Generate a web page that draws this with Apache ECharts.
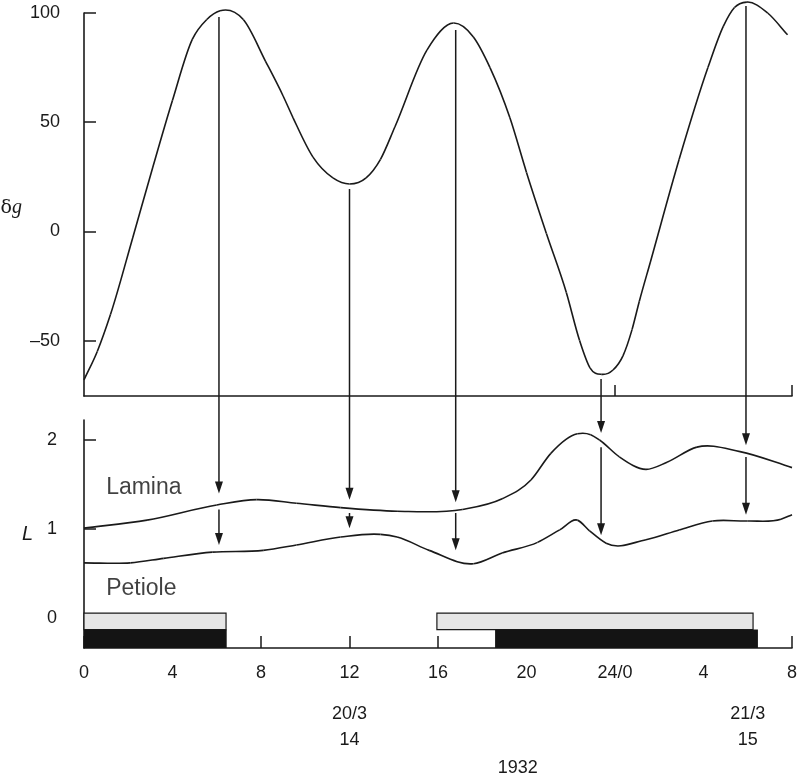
<!DOCTYPE html>
<html>
<head>
<meta charset="utf-8">
<script src="https://cdn.jsdelivr.net/npm/echarts@6/dist/echarts.min.js"></script>
<style>
  html, body { margin: 0; padding: 0; background: #fff; }
  #chart { width: 798px; height: 777px; }
</style>
</head>
<body>
<div id="chart"></div>
<script>
// hours since 0h on 20/3 (x), δg for the top curve, L for lamina / petiole
const dgHours = [0, 0.6, 1.2, 2.2, 3.1, 4.0, 4.9, 5.55, 6.15, 7.2, 8.2, 9.0, 9.45, 10.35, 11.25, 12.0, 12.75, 13.4, 14.05, 15.5, 16.7, 17.6, 18.35, 19.25, 20.0, 20.9, 21.8, 22.4, 22.87, 23.4, 23.91, 24.36, 24.77, 25.1, 25.6, 26.9, 28.2, 28.9, 29.4, 29.96, 30.9, 31.8];
const dgValues = [-68, -55, -38, -3, 29, 60, 88, 97, 101, 97, 78, 62, 52, 34, 24.5, 21.7, 24.5, 33, 47.8, 83, 95.4, 89, 75, 52, 27, -1, -28, -50, -62.5, -65.5, -63.5, -57, -45, -32, -14, 33, 75, 94, 102.5, 105, 100, 90];

const laminaHours = [0, 2.85, 6.0, 7.8, 9.6, 11.6, 14.15, 17.1, 18.9, 20.2, 21.1, 22.3, 22.9, 23.3, 24.2, 25.4, 26.35, 27.7, 29.65, 32.0];
const laminaValues = [1.01, 1.10, 1.27, 1.33, 1.29, 1.24, 1.20, 1.22, 1.34, 1.55, 1.85, 2.07, 2.06, 2.00, 1.81, 1.67, 1.75, 1.92, 1.87, 1.69];

const petioleHours = [0, 2.1, 3.6, 5.8, 8.1, 9.6, 11.6, 13.4, 14.15, 15.6, 17.6, 18.9, 20.5, 21.5, 22.3, 22.85, 23.6, 25.4, 26.9, 28.4, 30.0, 31.5, 32.0];
const petioleValues = [0.62, 0.62, 0.67, 0.74, 0.76, 0.82, 0.91, 0.94, 0.91, 0.76, 0.61, 0.73, 0.85, 0.99, 1.10, 0.98, 0.84, 0.88, 0.99, 1.09, 1.09, 1.11, 1.16];

// arrows: hour, start on the δg curve, tip above lamina; second arrow lamina -> petiole
const arrowHours = [6.1, 12.0, 16.8, 23.37, 29.92];
const arrowStartDg = [98.2, 19.4, 92.2, -67.6, 103.2];
const arrowTipLamina = [1.40, 1.33, 1.30, 2.08, 1.94];
const arrowStartPetiole = [1.22, 1.18, 1.18, 1.92, 1.81];
const arrowTipPetiole = [0.82, 1.01, 0.76, 0.93, 1.16];

// light (open bars) and dark (filled bars) periods, hours
const lightPeriods = [[0, 6.42], [15.95, 30.24]];
const darkPeriods = [[0, 6.45], [18.58, 30.46]];

const xTicks = [0, 4, 8, 12, 16, 20, 24, 28, 32];
const dgTicks = [-50, 0, 50, 100];
const lTicks = [0, 1, 2];
const dateMarks = [[12, "20/3\n14"], [30, "21/3\n15"]];
const yearMark = [[19.6, "1932"]];

const INK = "#1a1a1a";
const FONT = "'Liberation Sans', Arial, Helvetica, sans-serif";

const pairs = (xs, ys) => xs.map((x, i) => [x, ys[i]]);
const hourLabel = (v) => (v < 24 ? String(v) : v === 24 ? "24/0" : String(v - 24));

const chart = echarts.init(document.getElementById("chart"), null, { renderer: "canvas" });

// smooth curve: one cubic segment per data point, tangents from the neighbours (C1),
// so peaks stay round instead of being clipped like the built-in smoothing
const curveRender = (xs, ys) => (params, api) => {
    const i = params.dataIndex;
    const n = xs.length;
    if (i >= n - 1) return null;
    const P = (k) => api.coord([xs[k], ys[k]]);
    const slope = (k) => {
        if (k === 0 || k === n - 1) {
            const a = P(k === 0 ? 0 : n - 2), b = P(k === 0 ? 1 : n - 1);
            return (b[1] - a[1]) / (b[0] - a[0]);
        }
        const a = P(k - 1), b = P(k), c = P(k + 1);
        const h0 = b[0] - a[0], h1 = c[0] - b[0];
        const d0 = (b[1] - a[1]) / h0, d1 = (c[1] - b[1]) / h1;
        return (d0 * h1 + d1 * h0) / (h0 + h1);
    };
    const p = P(i), q = P(i + 1);
    const h = (q[0] - p[0]) / 3;
    return {
        type: "bezierCurve",
        shape: {
            x1: p[0], y1: p[1], x2: q[0], y2: q[1],
            cpx1: p[0] + h, cpy1: p[1] + slope(i) * h,
            cpx2: q[0] - h, cpy2: q[1] - slope(i + 1) * h,
        },
        style: { stroke: INK, lineWidth: 1.6, fill: null },
    };
};

const bandRender = (low, high, fill, stroke) => (params, api) => {
    const a = api.coord([api.value(0), high]);
    const b = api.coord([api.value(1), low]);
    return {
        type: "rect",
        shape: { x: a[0], y: a[1], width: b[0] - a[0], height: b[1] - a[1] },
        style: { fill: fill, stroke: stroke, lineWidth: stroke ? 1.2 : 0 },
    };
};

const arrowRender = (params, api) => {
    const x = api.value(0);
    const p0 = api.coord([x, api.value(1)]);
    const p1 = api.coord([x, api.value(2)]);
    return {
        type: "group",
        children: [
            { type: "line", shape: { x1: p0[0], y1: p0[1], x2: p1[0], y2: p1[1] - 8 }, style: { stroke: INK, lineWidth: 1.5 } },
            { type: "polygon", shape: { points: [[p1[0] - 4, p1[1] - 12], [p1[0] + 4, p1[1] - 12], [p1[0], p1[1]]] }, style: { fill: INK } },
        ],
    };
};

const axisLine = { show: true, onZero: false, lineStyle: { color: INK, width: 1.6 } };
const labelStyle = { color: INK, fontSize: 18, fontFamily: FONT };
const hiddenLine = { show: false, onZero: false };

const option = {
    animation: false,
    backgroundColor: "#fff",
    textStyle: { fontFamily: FONT, color: INK },
    grid: [
        { left: 84, top: 13, width: 708, height: 383, containLabel: false, outerBoundsMode: "none" },
        { left: 84, top: 420, width: 708, height: 228, containLabel: false, outerBoundsMode: "none" },
    ],
    xAxis: [
        {
            gridIndex: 0, type: "value", min: 0, max: 32, position: "bottom",
            axisLine: axisLine,
            axisTick: { show: true, inside: true, length: 11, customValues: [24, 32], lineStyle: { color: INK, width: 1.5 } },
            axisLabel: { show: false },
            splitLine: { show: false },
        },
        {
            gridIndex: 1, type: "value", min: 0, max: 32, interval: 4, position: "bottom",
            axisLine: axisLine,
            axisTick: { show: true, inside: true, length: 12, lineStyle: { color: INK, width: 1.5 } },
            axisLabel: Object.assign({ margin: 16, formatter: hourLabel, customValues: xTicks }, labelStyle),
            splitLine: { show: false },
        },
        {
            gridIndex: 1, type: "value", min: 0, max: 32, position: "bottom",
            axisLine: hiddenLine, axisTick: { show: false }, splitLine: { show: false },
            axisLabel: Object.assign({
                margin: 53, lineHeight: 26, customValues: dateMarks.map((d) => d[0]),
                formatter: (v) => (dateMarks.find((d) => d[0] === v) || [0, ""])[1],
            }, labelStyle),
        },
        {
            gridIndex: 1, type: "value", min: 0, max: 32, position: "bottom",
            axisLine: hiddenLine, axisTick: { show: false }, splitLine: { show: false },
            axisLabel: Object.assign({
                margin: 111, customValues: yearMark.map((d) => d[0]),
                formatter: (v) => (yearMark.find((d) => d[0] === v) || [0, ""])[1],
            }, labelStyle),
        },
    ],
    yAxis: [
        {
            gridIndex: 0, type: "value", min: -75.4, max: 100,
            axisLine: axisLine,
            axisTick: { show: true, inside: true, length: 12, customValues: dgTicks, lineStyle: { color: INK, width: 1.5 } },
            axisLabel: Object.assign({
                margin: 24, customValues: dgTicks,
                formatter: (v) => (v < 0 ? "\u2013" + Math.abs(v) : String(v)),
            }, labelStyle),
            splitLine: { show: false },
            name: "{a|\u03b4}{b|g}",
            nameLocation: "middle", nameRotate: 0, nameGap: 62,
            nameTextStyle: {
                padding: [7, 0, 0, 0],
                rich: {
                    a: { fontSize: 19, fontFamily: "'DejaVu Serif', serif", color: INK },
                    b: { fontSize: 20, fontStyle: "italic", fontFamily: "'Liberation Serif', serif", color: INK },
                },
            },
        },
        {
            gridIndex: 1, type: "value", min: -0.337, max: 2.225,
            axisLine: axisLine,
            axisTick: { show: true, inside: true, length: 12, customValues: lTicks, lineStyle: { color: INK, width: 1.5 } },
            axisLabel: Object.assign({ margin: 27, customValues: lTicks }, labelStyle),
            splitLine: { show: false },
            name: "L",
            nameLocation: "middle", nameRotate: 0, nameGap: 51,
            nameTextStyle: { fontSize: 20, fontStyle: "italic", fontFamily: FONT, color: INK },
        },
    ],
    series: [
        {
            type: "custom", xAxisIndex: 0, yAxisIndex: 0, data: pairs(dgHours, dgValues),
            encode: { x: 0, y: 1 }, clip: false, silent: true,
            renderItem: curveRender(dgHours, dgValues),
        },
        {
            type: "custom", xAxisIndex: 1, yAxisIndex: 1, data: pairs(laminaHours, laminaValues),
            encode: { x: 0, y: 1 }, silent: true,
            renderItem: curveRender(laminaHours, laminaValues),
        },
        {
            type: "custom", xAxisIndex: 1, yAxisIndex: 1, data: pairs(petioleHours, petioleValues),
            encode: { x: 0, y: 1 }, silent: true,
            renderItem: curveRender(petioleHours, petioleValues),
        },
        {
            type: "custom", xAxisIndex: 1, yAxisIndex: 1, data: lightPeriods, z: 4,
            renderItem: bandRender(-0.13, 0.056, "#e6e6e6", INK),
        },
        {
            type: "custom", xAxisIndex: 1, yAxisIndex: 1, data: darkPeriods, z: 4,
            renderItem: bandRender(-0.337, -0.13, "#141414", null),
        },
        {
            // curve labels, anchored at a point in the bottom panel
            type: "scatter", xAxisIndex: 1, yAxisIndex: 1, symbolSize: 0, silent: true,
            data: [[1.0, 1.46, "Lamina"], [1.0, 0.33, "Petiole"]],
            label: {
                show: true, position: "right", distance: 0,
                formatter: (p) => p.data[2],
                fontSize: 23, fontFamily: FONT, color: "#111",
            },
        },
    ],
};

chart.setOption(option);

// long arrows start on the δg curve (top grid) and end in the bottom grid:
// carry the start value across through the two grids' scales
const longArrows = arrowHours.map((h, i) => {
    const px = chart.convertToPixel({ gridIndex: 0 }, [h, arrowStartDg[i]]);
    const start = chart.convertFromPixel({ gridIndex: 1 }, px);
    return [h, start[1], arrowTipLamina[i]];
});
const shortArrows = arrowHours.map((h, i) => [h, arrowStartPetiole[i], arrowTipPetiole[i]]);

chart.setOption({
    series: option.series.concat([
        { type: "custom", xAxisIndex: 1, yAxisIndex: 1, data: longArrows.concat(shortArrows), z: 5, clip: false, renderItem: arrowRender },
    ]),
});
</script>
</body>
</html>
